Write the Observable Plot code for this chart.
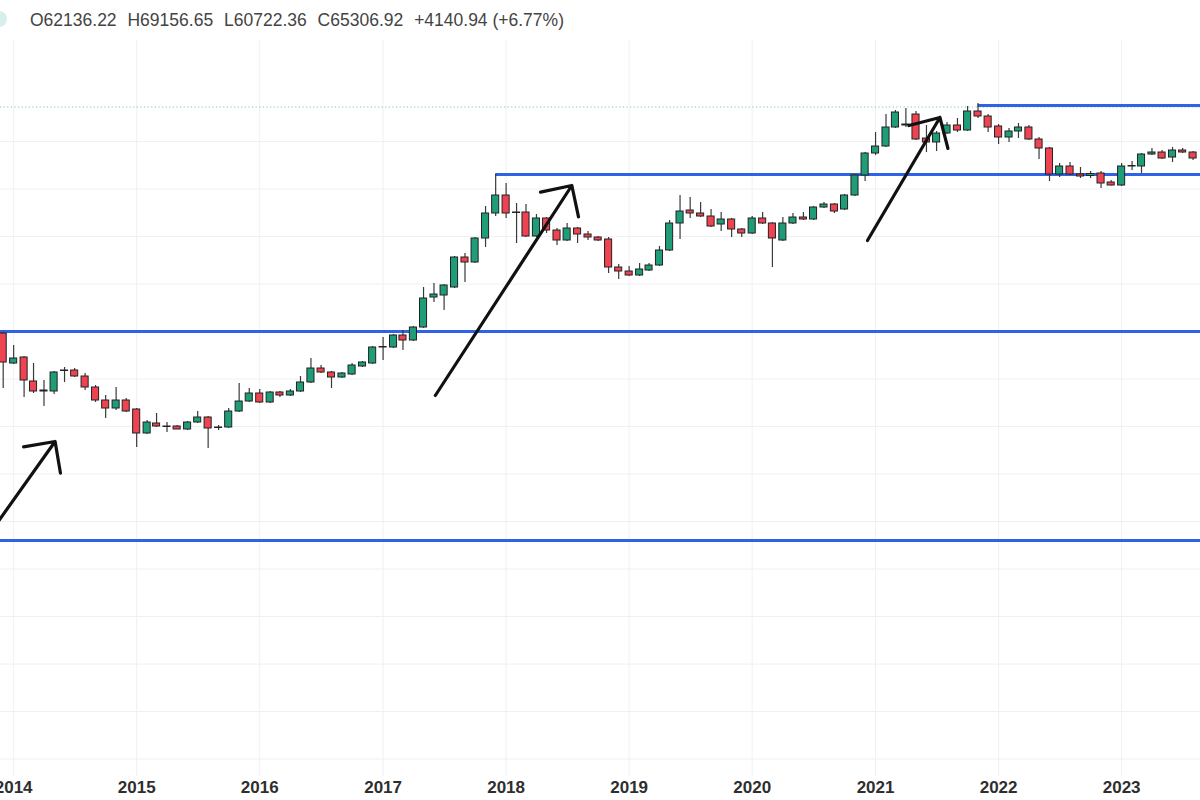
<!DOCTYPE html>
<html>
<head>
<meta charset="utf-8">
<script src="https://cdn.jsdelivr.net/npm/d3@7"></script>
<script src="https://cdn.jsdelivr.net/npm/@observablehq/plot@0.6"></script>
<style>
html, body { margin: 0; padding: 0; background: #fff; width: 1200px; height: 800px; overflow: hidden; }
#header { position: relative; height: 40px; font-family: "Liberation Sans", Arial, sans-serif; font-size: 17.5px; color: #444; }
#header .logo { position: absolute; left: -9px; top: 11px; width: 16px; height: 16px; border-radius: 50%; background: #d6efea; }
#header .vals { position: absolute; left: 30px; top: 10px; white-space: nowrap; }
#header .vals span { margin-right: 6px; }
#chart { width: 1200px; height: 760px; overflow: hidden; }
#chart svg { display: block; }
</style>
</head>
<body>
<div id="header">
  <div class="logo"></div>
  <div class="vals" id="vals"></div>
</div>
<div id="chart"></div>
<script>
// ---- header values (last bar readout) ----
const headerItems = ["O62136.22", "H69156.65", "L60722.36", "C65306.92", "+4140.94 (+6.77%)"];

// ---- monthly candles, Dec 2013 .. Aug 2023 ----
const firstMonth = "2013-12-01";
const opens = [
  42700,
  39700,40300,37900,36900,36900,38950,39000,38400,37300,36000,35200,36000,
  35100,32700,33700,33400,33400,33100,33800,34300,33250,33300,34900,35900,
  36700,35800,36800,36500,36900,37800,39200,38800,38300,38600,39400,39700,
  41300,41300,42500,42000,43300,46300,46500,47300,50300,49800,52200,54700,
  56500,54800,54800,52400,54200,53000,52000,53200,52600,52300,52100,49300,
  48900,48500,49000,49500,51000,53700,55000,54700,54400,53600,54100,53100,
  52700,54200,53700,52000,53700,54300,54100,55300,55600,55100,56500,58500,
  60700,61400,63300,63500,64600,62200,61800,62700,63500,63000,64900,64400,
  63400,62300,62900,63300,62100,61200,58600,59400,58600,58450,58700,57800,
  57500,59400,59400,60600,60800,60300,61000,60800
];
const highs = [
  42800,
  41500,40400,39700,38000,38900,39300,39200,38700,37500,36500,37300,36200,
  35200,34000,34700,33800,33500,33900,34900,34400,33500,35200,37700,37200,
  37100,36900,36900,37100,38400,40200,39500,38900,38800,39700,39900,41400,
  42300,42600,43000,43400,47300,47700,47600,50400,50700,52300,55400,58600,
  57700,55700,55600,54600,54300,53200,53700,53300,52900,52400,52300,49600,
  49400,49700,49700,51400,54000,56500,56300,55800,55100,54800,54200,53200,
  54400,54800,53800,54300,54700,54800,55400,55800,55700,56600,58600,60800,
  62800,64600,65000,65200,64900,63500,62900,63800,64200,65400,65700,64600,
  63600,63200,63700,63500,62300,61300,59700,59800,59300,58900,58900,58000,
  59700,59900,60700,61200,61000,61300,61200,60900
];
const lows = [
  37200,
  39600,36300,36700,35400,36600,37800,38300,37000,35800,34200,35000,34800,
  31300,32600,33300,32800,33100,33000,33700,31200,33000,33200,34800,35800,
  35700,35700,36300,36400,36800,37700,38700,37200,38200,38500,39300,39600,
  40000,41200,41000,41900,43200,45800,45000,47200,47800,49700,51300,54400,
  54200,51700,52300,52300,52700,51500,51900,51700,52000,51900,48700,48100,
  48400,48400,48900,49400,50900,52100,54200,54300,53300,52900,52300,52300,
  52600,53600,49300,51900,53600,54000,54000,55200,54700,55000,56400,57900,
  60500,61300,63200,63300,62000,60800,60900,62600,62800,62900,64200,62800,
  61600,61800,62200,62000,60100,57900,58300,58500,58200,58200,57200,57450,
  57400,59000,58700,60500,60100,59800,60700,60000
];
const closes = [
  39800,
  40200,38000,36900,37000,38800,39000,38400,37300,36000,35200,36000,34900,
  32700,33800,33400,33350,33100,33800,34300,33200,33300,34900,35900,36700,
  35800,36800,36500,36900,37800,39200,38800,38300,38700,39500,39800,41300,
  41350,42500,42000,43300,46200,46600,47500,50300,49800,52200,54700,56500,
  54700,54750,52400,54200,53000,52000,53200,52600,52300,52000,49300,48900,
  48500,49100,49500,51000,53700,54900,54700,54400,53400,54100,53100,52700,
  54200,53700,52200,53700,54300,54100,55300,55600,54900,56500,58500,60700,
  61400,63300,64800,63600,62100,61800,62700,63500,63000,64900,64400,63300,
  62300,62900,63300,62100,61200,58600,59400,58600,58400,58650,57700,57500,
  59400,59450,60600,60800,60200,61000,60800,60200
];

// ---- drawn horizontal levels (blue) ----
const levelPrices = [65500, 58600, 42900, 22000];
const levelStarts = ["2021-11-01", "2017-12-01", null, null];
const dottedPrice = 65350;

// ---- hand-drawn arrows ----
const arrowFrom = [["2013-10-24", 22800], ["2017-06-05", 36500], ["2020-12-08", 52000]];
const arrowTo   = [["2014-05-04", 31900], ["2018-07-15", 57500], ["2021-07-11", 64300]];

// ---- grid ----
const gridPrices = [61900, 57150, 52400, 47650, 42900, 38150, 33400, 28650, 23900, 19150, 14400, 9650, 4900, 150];
const yearTicks = ["2014","2015","2016","2017","2018","2019","2020","2021","2022","2023"];

// ---- build ----
document.getElementById("vals").innerHTML = headerItems.map(s => `<span>${s}</span>`).join(" ");

const dt = s => new Date(s + (s.length === 10 ? "T00:00:00Z" : "-01-01T00:00:00Z"));
const xStart = dt("2013-11-23"), xEnd = dt("2023-08-23");
const months = d3.utcMonth.range(dt(firstMonth), d3.utcMonth.offset(dt(firstMonth), opens.length));
const candles = months.map((date, i) => ({date, open: opens[i], high: highs[i], low: lows[i], close: closes[i]}));
const levels = levelPrices.map((p, i) => ({price: p, from: levelStarts[i] ? dt(levelStarts[i]) : xStart, to: xEnd}));
const arrows = arrowFrom.map((a, i) => ({x1: dt(a[0]), y1: a[1], x2: dt(arrowTo[i][0]), y2: arrowTo[i][1]}));
const years = yearTicks.map(dt);
const DAY = 864e5;
const UP = "#1f9d78", DOWN = "#ee4351";

const chart = Plot.plot({
  width: 1200,
  height: 760,
  marginTop: 0, marginRight: 0, marginLeft: 0, marginBottom: 24,
  style: {background: "#fff", overflow: "hidden"},
  x: {type: "utc", domain: [xStart, xEnd], range: [0, 1200], label: null},
  y: {type: "linear", domain: [0, 76000], range: [720, -40], axis: null},
  color: {type: "identity"},
  marks: [
    Plot.ruleY(gridPrices, {stroke: "#eef0f4", strokeWidth: 1}),
    Plot.ruleX(years, {stroke: "#eef0f4", strokeWidth: 1}),
    Plot.ruleY([dottedPrice], {stroke: "#7cc8b6", strokeWidth: 1, strokeDasharray: "1.2,2.4"}),
    Plot.ruleY(levels, {y: "price", x1: "from", x2: "to", stroke: "#2f62e6", strokeWidth: 3}),
    Plot.ruleX(candles, {x: "date", y1: "low", y2: "high", stroke: "#3a3a3a", strokeWidth: 1.2}),
    Plot.rect(candles, {
      x1: d => new Date(+d.date - 10.5 * DAY),
      x2: d => new Date(+d.date + 10.5 * DAY),
      y1: "open", y2: "close",
      fill: d => d.close >= d.open ? UP : DOWN,
      stroke: "#222", strokeWidth: 1
    }),
    Plot.arrow(arrows, {x1: "x1", y1: "y1", x2: "x2", y2: "y2", stroke: "#111", strokeWidth: 3.2, headLength: 15, headAngle: 90, strokeLinecap: "round", strokeLinejoin: "round"}),
    Plot.axisX({ticks: years, tickFormat: "%Y", tickSize: 0, tickPadding: 4, fontSize: 17, fontWeight: "bold", fontFamily: "Liberation Sans, Arial, sans-serif", fill: "#2e2e2e", label: null})
  ]
});
document.getElementById("chart").appendChild(chart);
</script>
</body>
</html>
